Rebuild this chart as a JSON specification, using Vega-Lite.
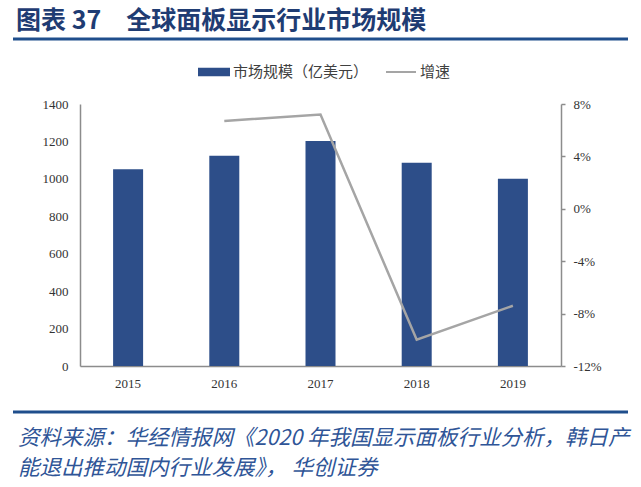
{
  "$schema": "https://vega.github.io/schema/vega-lite/v6.json",
  "background": "white",
  "padding": {"left": 11, "top": 8, "right": 15, "bottom": 5},
  "bounds": "flush",
  "center": true,
  "spacing": 46,
  "resolve": {"scale": {"color": "independent"}, "legend": {"color": "independent"}},
  "config": {
    "view": {"stroke": null},
    "font": "Noto Sans CJK SC"
  },
  "vconcat": [
    {
      "width": 615,
      "height": 19,
      "title": {
        "text": "图表 37　全球面板显示行业市场规模",
        "anchor": "start",
        "orient": "top",
        "frame": "group",
        "font": "Noto Sans CJK SC",
        "fontSize": 25,
        "fontWeight": "bold",
        "color": "#1f3c73",
        "offset": 4,
        "dx": 3
      },
      "data": {"values": [{"p": 1}]},
      "mark": {"type": "rule", "color": "#1f4e8c", "strokeWidth": 3},
      "encoding": {
        "y": {"field": "p", "type": "quantitative", "scale": {"domain": [0, 1], "nice": false}, "axis": null}
      }
    },
    {
      "width": 481,
      "height": 262,
      "data": {
        "values": [
          {"year": "2015", "series": "市场规模（亿美元）", "value": 1051},
          {"year": "2016", "series": "市场规模（亿美元）", "value": 1123},
          {"year": "2017", "series": "市场规模（亿美元）", "value": 1202},
          {"year": "2018", "series": "市场规模（亿美元）", "value": 1086},
          {"year": "2019", "series": "市场规模（亿美元）", "value": 1001},
          {"year": "2016", "series": "增速", "value": 0.067},
          {"year": "2017", "series": "增速", "value": 0.072},
          {"year": "2018", "series": "增速", "value": -0.100},
          {"year": "2019", "series": "增速", "value": -0.074}
        ]
      },
      "encoding": {
        "x": {
          "field": "year",
          "type": "ordinal",
          "scale": {"paddingInner": 0, "paddingOuter": 0},
          "axis": {
            "title": null,
            "labelAngle": 0,
            "ticks": false,
            "domainColor": "#8c8c8c",
            "domainWidth": 1.5,
            "labelFont": "Liberation Serif",
            "labelFontSize": 13,
            "labelColor": "#333333",
            "labelPadding": 11
          }
        },
        "color": {
          "field": "series",
          "type": "nominal",
          "scale": {"domain": ["市场规模（亿美元）", "增速"], "range": ["#2d4e89", "#a5a5a5"]},
          "legend": {
            "orient": "none",
            "legendX": 118,
            "legendY": -48,
            "direction": "horizontal",
            "title": null,
            "labelFont": "Noto Sans CJK SC",
            "labelFontSize": 15,
            "labelColor": "#404040",
            "symbolSize": 900,
            "columnPadding": 13,
            "labelOffset": 3,
            "encode": {
              "symbols": {
                "update": {
                  "shape": {"signal": "datum.value === '增速' ? 'M-1,0H1' : 'M-1,-0.22H1V0.22H-1Z'"},
                  "fill": {"signal": "datum.value === '增速' ? 'transparent' : '#2d4e89'"},
                  "stroke": {"signal": "datum.value === '增速' ? '#a5a5a5' : 'transparent'"},
                  "strokeWidth": {"value": 2},
                  "opacity": {"value": 1}
                }
              }
            }
          }
        }
      },
      "layer": [
        {
          "transform": [{"filter": "datum.series === '市场规模（亿美元）'"}],
          "mark": {"type": "bar", "size": 30},
          "encoding": {
            "y": {
              "field": "value",
              "type": "quantitative",
              "scale": {"domain": [0, 1400], "nice": false},
              "axis": {
                "orient": "left",
                "title": null,
                "grid": false,
                "ticks": false,
                "format": "d",
                "values": [0, 200, 400, 600, 800, 1000, 1200, 1400],
                "domainColor": "#8c8c8c",
                "domainWidth": 1.5,
                "labelFont": "Liberation Serif",
                "labelFontSize": 13,
                "labelColor": "#333333",
                "labelPadding": 12
              }
            }
          }
        },
        {
          "transform": [{"filter": "datum.series === '增速'"}],
          "mark": {"type": "line", "strokeWidth": 2.5},
          "encoding": {
            "y": {
              "field": "value",
              "type": "quantitative",
              "scale": {"domain": [-0.12, 0.08], "nice": false, "zero": false},
              "axis": {
                "orient": "right",
                "title": null,
                "grid": false,
                "values": [-0.12, -0.08, -0.04, 0, 0.04, 0.08],
                "labelExpr": "replace(format(datum.value, '.0%'), '\u2212', '-')",
                "ticks": true,
                "tickSize": 4,
                "tickColor": "#8c8c8c",
                "tickWidth": 1.5,
                "domainColor": "#8c8c8c",
                "domainWidth": 1.5,
                "labelFont": "Liberation Serif",
                "labelFontSize": 13,
                "labelColor": "#333333",
                "labelPadding": 8
              }
            }
          }
        }
      ],
      "resolve": {"scale": {"y": "independent"}}
    },
    {
      "width": 615,
      "height": 1,
      "title": {
        "text": ["资料来源：华经情报网《2020 年我国显示面板行业分析，韩日产", "能退出推动国内行业发展》， 华创证券"],
        "orient": "bottom",
        "anchor": "start",
        "frame": "group",
        "font": "Noto Sans CJK SC",
        "fontSize": 21.5,
        "fontStyle": "italic",
        "fontWeight": "normal",
        "color": "#2f5597",
        "lineHeight": 30,
        "offset": 14,
        "dx": 5
      },
      "data": {"values": [{"p": 1}]},
      "mark": {"type": "rule", "color": "#1f4e8c", "strokeWidth": 3},
      "encoding": {
        "y": {"field": "p", "type": "quantitative", "scale": {"domain": [0, 1], "nice": false}, "axis": null}
      }
    }
  ]
}
